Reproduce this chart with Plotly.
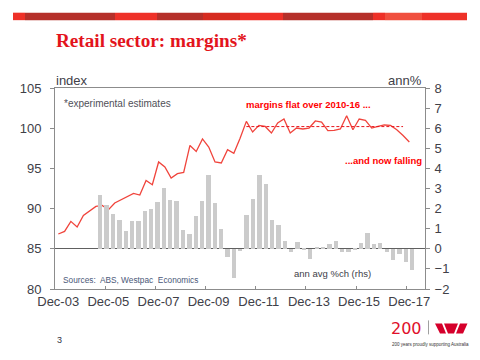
import plotly.graph_objects as go

# ---------------- data ----------------
tick_labels = ["Dec-03", "Dec-05", "Dec-07", "Dec-09", "Dec-11", "Dec-13", "Dec-15", "Dec-17"]
tick_quarter_index = [0, 8, 16, 24, 32, 40, 48, 56]

# retail margins index (quarterly, Dec-03 .. Dec-17), left axis
margin_index = [86.84, 87.16, 88.41, 87.71, 89.15, 89.74, 90.27, 90.40, 89.86, 90.70,
                91.11, 91.44, 91.89, 91.69, 93.51, 92.97, 95.80, 95.17, 93.81, 94.34,
                94.50, 97.86, 97.11, 98.66, 97.66, 95.80, 95.67, 97.33, 96.87, 98.75,
                100.85, 99.53, 100.35, 100.22, 99.40, 100.65, 101.14, 99.40, 100.02, 99.90,
                100.02, 100.90, 100.77, 99.69, 99.73, 99.90, 101.55, 99.81, 101.14, 100.97,
                100.02, 100.22, 100.40, 100.35, 99.81, 99.10, 98.28]

# annual average % change (rhs), quarterly from Mar-05 (quarter index 7) to Dec-17
bar_start_index = 7
ann_avg_pct = [2.70, 2.20, 1.71, 1.41, 0.91, 1.36, 1.36, 1.86, 1.96, 2.35,
               3.05, 2.45, 2.40, 0.96, 0.76, 1.61, 2.40, 3.65, 2.30, 1.01,
               -0.42, -1.46, -0.12, 1.66, 2.50, 3.65, 3.20, 1.41, 1.16, 0.41,
               -0.17, 0.36, -0.08, -0.52, 0.06, 0.11, 0.26, 0.41, -0.17, -0.17,
               -0.07, 0.31, 0.81, 0.26, 0.31, -0.17, -0.57, -0.28, -0.67, -1.03]

# flat average 2010-16
flat_start_index = 30
flat_end_index = 55
flat_level = 100.2

# ---------------- layout helpers ----------------
W, H = 480, 360
L, R, T, B = 55, 425, 88, 289.5


def px(x):
    return (x - L) / (R - L)


def py(y):
    return (B - y) / (B - T)


line_x = list(range(len(margin_index)))
bar_x = list(range(bar_start_index, bar_start_index + len(ann_avg_pct)))
flat_x = list(range(flat_start_index, flat_end_index + 1))
flat_y = [flat_level] * len(flat_x)

fig = go.Figure()

fig.add_trace(go.Bar(
    x=bar_x, y=ann_avg_pct, xaxis="x2", yaxis="y2",
    marker=dict(color="#cbcbcb", line=dict(width=0)), width=0.68,
    showlegend=False, hoverinfo="skip"))

fig.add_trace(go.Scatter(
    x=line_x, y=margin_index, mode="lines", xaxis="x", yaxis="y",
    line=dict(color="#f0443c", width=1.3), showlegend=False))

fig.add_trace(go.Scatter(
    x=flat_x, y=flat_y, mode="lines", xaxis="x", yaxis="y",
    line=dict(color="#e8141c", width=1, dash="3px,2px"), showlegend=False))

axis_col = "#8c8c8c"
tick_font = dict(family="Liberation Sans, Arial, sans-serif", size=13, color="#404048")

fig.update_layout(
    width=W, height=H,
    margin=dict(l=L, r=W - R, t=T, b=H - B, pad=0),
    paper_bgcolor="white", plot_bgcolor="white",
    bargap=0,
    xaxis=dict(
        range=[-0.53, 58.5], tickvals=[v - 0.5 for v in tick_quarter_index], ticktext=tick_labels,
        ticks="inside", ticklen=3, tickcolor=axis_col, ticklabelshift=3,
        showline=True, linecolor=axis_col, linewidth=1, mirror=True,
        showgrid=False, zeroline=False, tickfont=tick_font),
    xaxis2=dict(
        range=[-0.11, 58.02], overlaying="x", anchor="y2", visible=False),
    yaxis=dict(
        range=[80, 105], tickvals=[80, 85, 90, 95, 100, 105],
        ticks="outside", ticklen=4, tickcolor=axis_col,
        showline=True, linecolor=axis_col, linewidth=1,
        showgrid=False, zeroline=False, tickfont=tick_font, ticklabelstandoff=6),
    yaxis2=dict(
        range=[-2, 8], tickvals=list(range(-2, 9)), overlaying="y", side="right",
        ticks="outside", ticklen=4, tickcolor=axis_col,
        showline=True, linecolor=axis_col, linewidth=1,
        showgrid=False, zeroline=True, zerolinecolor="#606060", zerolinewidth=1,
        tickfont=tick_font, ticklabelstandoff=2),
)

# ---------------- top decorative band ----------------
band = [(13, 25, "#ee3128"), (25, 115, "#b5302a"), (115, 157, "#ee3128"),
        (157, 203, "#b5302a"), (203, 240, "#d62b20"), (240, 283, "#ee3128"),
        (283, 373, "#b5302a"), (373, 385, "#ee3128"), (385, 422, "#f0503f"),
        (422, 467, "#ee3128")]
for x0, x1, c in band:
    fig.add_shape(type="rect", xref="paper", yref="paper",
                  x0=px(x0), x1=px(x1), y0=py(20), y1=py(12.5),
                  fillcolor=c, line=dict(width=0), layer="above")

# ---------------- texts ----------------
def text(x, y, s, size, color, anchor="left", bold=False, family="Liberation Sans, Arial, sans-serif"):
    fig.add_annotation(x=px(x), y=py(y), xref="paper", yref="paper", text=("<b>%s</b>" % s) if bold else s,
                       showarrow=False, xanchor=anchor, yanchor="middle",
                       font=dict(size=size, color=color, family=family))


text(54, 40.5, "Retail sector: margins*", 19.2, "#e3141c", bold=True,
     family="Liberation Serif, Times New Roman, serif")
text(54, 80.5, "index", 13, "#404048")
text(424, 80.5, "ann%", 13, "#404048", anchor="right")
text(62, 104, "*experimental estimates", 10, "#505058")
text(244, 105, "margins flat over 2010-16 ...", 9.5, "#ff0000", bold=True)
text(343, 161, "...and now falling", 9.5, "#ff0000", bold=True)
text(61, 280, "Sources:  ABS, Westpac  Economics", 8.3, "#4a5878")
text(292, 274, "ann avg %ch (rhs)", 9.5, "#404048")
text(55, 341, "3", 9, "#333344")

# ---------------- logo ----------------
text(389, 329, "200", 16, "#e0102a", family="DejaVu Sans, sans-serif")
fig.add_shape(type="line", xref="paper", yref="paper",
              x0=px(428.5), x1=px(428.5), y0=py(321), y1=py(335),
              line=dict(color="#a0a0a0", width=1))
w_paths = [
    [(435, 324), (442, 324), (446, 334), (440, 334)],
    [(444, 324), (458, 324), (454, 334), (448, 334)],
    [(460, 324), (467.5, 324), (463, 334), (456, 334)],
]
for poly in w_paths:
    d = "M " + " L ".join("%f,%f" % (px(a), py(b)) for a, b in poly) + " Z"
    fig.add_shape(type="path", xref="paper", yref="paper", path=d,
                  fillcolor="#d5002b", line=dict(width=0))
text(390, 345.5, "200 years proudly supporting Australia", 4.5, "#333333")

fig.write_html("out.html", config={"displayModeBar": False},
               post_script="document.body.style.margin='0';document.body.style.overflow='hidden';")
